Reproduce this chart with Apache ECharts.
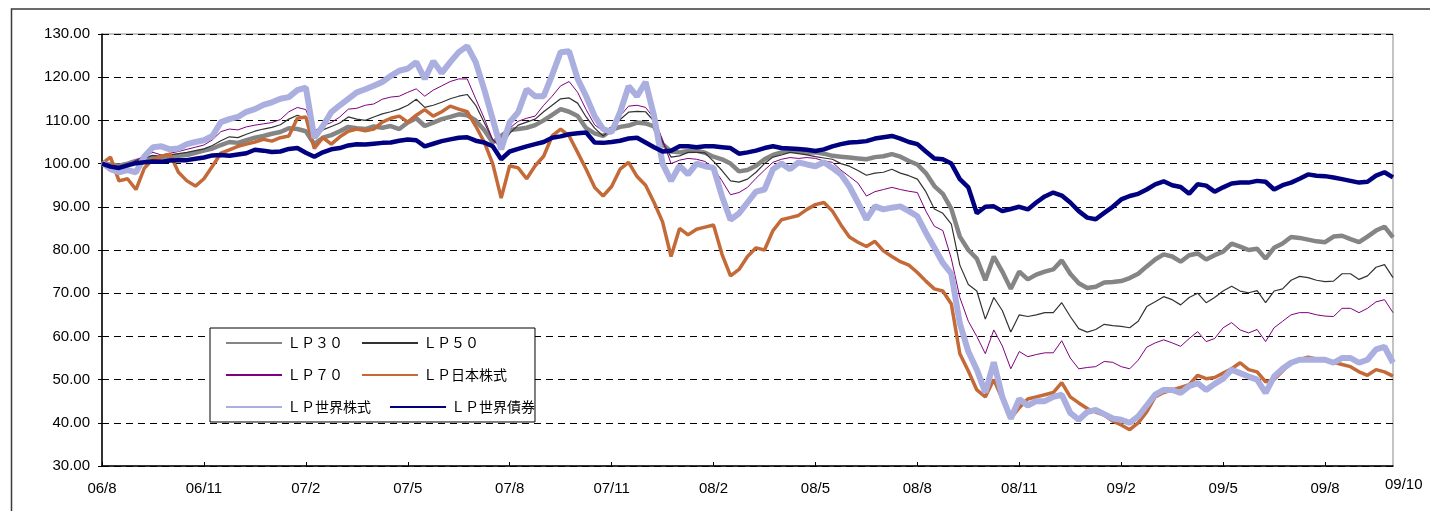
<!DOCTYPE html>
<html>
<head>
<meta charset="utf-8">
<script src="https://cdn.jsdelivr.net/npm/echarts@6/dist/echarts.min.js"></script>
<style>
  html, body { margin: 0; padding: 0; background: #fff; }
  #chart { width: 1430px; height: 511px; }
</style>
</head>
<body>
<div id="chart"></div>
<script>
// one label per month, 06/8 .. 09/10
const months = [
  '06/8', '06/9', '06/10', '06/11', '06/12',
  '07/1', '07/2', '07/3', '07/4', '07/5', '07/6', '07/7', '07/8', '07/9', '07/10', '07/11', '07/12',
  '08/1', '08/2', '08/3', '08/4', '08/5', '08/6', '08/7', '08/8', '08/9', '08/10', '08/11', '08/12',
  '09/1', '09/2', '09/3', '09/4', '09/5', '09/6', '09/7', '09/8', '09/9', '09/10'
]
// four readings a month, last one at 09/10
const categories = []
months.slice(0, -1).forEach(m => {
  for (let w = 1; w <= 4; w++) categories.push(m + '-' + w)
})
categories.push(months[months.length - 1])

const seriesNames = ['ＬＰ３０', 'ＬＰ５０', 'ＬＰ７０', 'ＬＰ日本株式', 'ＬＰ世界株式', 'ＬＰ世界債券']

const lp30 = [
  100.0, 99.8, 99.5, 100.0, 100.6, 101.0, 101.5, 101.3, 101.6, 101.8, 102.0, 102.5,
  103.0, 103.5, 104.3, 105.0, 104.8, 105.4, 106.0, 106.4, 106.9, 107.3, 108.2, 108.0,
  107.5, 104.5, 106.0, 106.6, 107.5, 108.5, 108.2, 108.0, 108.6, 108.3, 108.7, 108.0,
  109.5, 110.5, 108.7, 109.5, 110.3, 110.8, 111.4, 111.2, 110.0, 107.8, 104.9, 106.4,
  107.8, 108.0, 108.3, 108.9, 110.0, 111.3, 112.6, 112.0, 111.0, 108.2, 107.0, 106.4,
  107.8, 108.5, 108.8, 109.5, 109.3, 108.6, 104.5, 102.8, 102.6, 102.9, 103.0, 102.5,
  101.6, 101.0, 100.0, 98.2, 98.5, 99.5, 101.0, 102.0, 102.6, 103.0, 102.9, 102.5,
  102.6, 102.3, 101.8, 101.6, 101.4, 101.2, 101.0, 101.5, 101.7, 102.2, 101.6, 100.6,
  99.8, 97.8, 94.8, 93.0, 89.5, 83.1, 80.0, 78.0, 73.0, 78.5, 75.0, 71.0,
  75.0, 73.2, 74.3, 75.0, 75.5, 77.6, 74.5, 72.3, 71.2, 71.5, 72.5, 72.6,
  72.8, 73.5, 74.5, 76.2, 77.8, 79.0, 78.5, 77.3, 78.8, 79.2, 77.8, 78.8,
  79.6, 81.5, 80.8, 80.0, 80.3, 78.0, 80.5, 81.5, 83.0, 82.8, 82.4, 82.0,
  81.8, 83.1, 83.3, 82.5, 81.8, 83.1, 84.5, 85.4, 82.9
]

const lp50 = [
  100.0, 99.6, 99.2, 99.8, 100.6, 101.3, 101.9, 101.6, 102.0, 102.3, 102.6, 103.0,
  103.4, 104.2, 105.3, 106.2, 106.0, 106.8, 107.5, 108.0, 108.4, 109.0, 110.3, 111.2,
  110.5, 106.0, 107.8, 108.6, 109.4, 110.8, 110.3, 110.0, 110.8, 111.5, 112.0, 112.6,
  113.5, 114.9, 113.0, 113.5, 114.2, 115.0, 115.6, 116.0, 113.5, 109.5, 105.5, 104.0,
  107.0, 108.9, 109.6, 110.3, 112.0, 113.5, 115.0, 115.2, 114.0, 110.8, 108.2, 106.4,
  108.0, 110.2, 111.9, 112.1, 112.0, 109.8, 105.0, 101.5, 101.8, 102.6, 102.6, 102.5,
  100.5, 98.4, 96.0, 95.7, 96.4, 98.0, 100.0, 101.5, 102.0, 102.6, 102.3, 102.0,
  101.6, 101.3, 101.0, 100.0, 99.4, 98.4, 97.3, 97.8, 98.0, 98.7, 97.8, 97.2,
  96.4, 93.5, 89.5, 88.5, 86.0, 76.5, 72.0, 70.5, 64.0, 69.0, 66.0, 61.0,
  65.0, 64.6, 65.0, 65.5, 65.5, 67.8, 64.6, 61.8, 61.0, 61.6, 62.8, 62.5,
  62.3, 62.0, 63.5, 66.9, 68.0, 69.2, 68.5, 67.3, 69.0, 70.0, 67.8, 69.0,
  70.5, 71.6, 70.5, 70.1, 70.6, 67.8, 70.5, 71.0, 73.0, 73.9, 73.6, 73.0,
  72.7, 72.8, 74.5, 74.5, 73.2, 74.0, 76.0, 76.6, 73.6
]

const lp70 = [
  100.0, 99.4, 98.8, 99.5, 100.8, 101.8, 102.6, 102.0, 102.4, 102.8, 103.3, 103.8,
  104.3, 105.5, 107.4, 108.0, 107.8, 108.5, 108.9, 109.2, 109.5, 110.2, 112.0, 113.0,
  112.5, 107.5, 108.8, 109.5, 110.8, 112.6, 112.8, 113.5, 113.8, 114.9, 115.4, 115.6,
  116.5, 117.3, 115.6, 117.0, 118.0, 119.0, 119.6, 119.6, 115.0, 110.5, 105.5, 103.5,
  108.2, 109.8, 110.5, 111.0, 113.5, 115.6, 118.0, 119.0, 116.5, 112.5, 109.0, 107.5,
  108.5, 111.0, 113.3, 113.5, 113.0, 110.5, 105.5, 100.0, 100.8, 101.2, 101.0, 100.5,
  99.0, 96.0, 92.8, 93.3, 94.5, 96.6, 98.5, 100.3, 101.0, 101.4, 101.2, 101.4,
  101.2, 100.6, 100.3, 98.5, 97.0, 95.5, 92.5, 93.5, 94.0, 94.5, 94.0, 93.6,
  93.3, 89.0, 85.5, 84.5, 78.0, 69.0, 63.5, 60.0, 56.0, 61.5, 57.8, 52.5,
  56.5, 55.3, 55.8, 56.2, 56.2, 59.0, 55.0, 52.5, 52.8, 53.0, 54.2, 54.0,
  53.0, 52.5, 54.5, 57.5, 58.5, 59.2, 58.5, 57.7, 59.5, 61.1, 58.8, 59.5,
  62.0, 63.2, 61.5, 60.8, 61.6, 58.8, 62.0, 63.5, 65.0, 65.5, 65.5, 65.0,
  64.7, 64.6, 66.5, 66.5, 65.5, 66.5, 68.0, 68.5, 65.5
]

const lpJapanEq = [
  100.0, 101.5, 96.0, 96.5, 94.0, 99.0, 101.0, 101.7, 102.2, 98.0, 96.0, 94.8,
  96.5, 99.4, 102.4, 103.2, 104.0, 104.5, 105.0, 105.6, 105.2, 106.0, 106.4, 110.5,
  110.8, 103.5, 106.0, 104.5, 106.2, 107.5, 108.0, 107.6, 108.0, 109.6, 110.5, 111.0,
  109.6, 111.2, 112.5, 111.0, 112.0, 113.3, 112.6, 112.0, 108.7, 105.0, 100.0, 92.0,
  99.5, 99.0, 96.5, 99.5, 101.7, 106.4, 108.0, 106.4, 102.6, 98.7, 94.5, 92.5,
  94.7, 98.7, 100.3, 97.0, 95.0, 91.0, 86.5, 78.5, 85.0, 83.5, 84.8, 85.3,
  85.8, 79.0, 74.0, 75.5, 78.5, 80.5, 80.0, 84.5, 87.0, 87.5, 88.0, 89.4,
  90.5, 91.0, 89.0, 85.8, 83.0, 81.8, 80.8, 82.0, 79.8, 78.5, 77.3, 76.5,
  74.8, 72.8, 71.0, 70.5, 67.5, 56.0, 52.0, 47.6, 46.0, 50.0, 45.5, 41.0,
  43.5, 45.5, 46.0, 46.5, 47.0, 49.3, 46.0, 44.6, 43.3, 42.5, 41.8, 40.4,
  39.5, 38.4, 40.0, 42.5, 46.0, 47.0, 47.6, 48.2, 48.8, 51.0, 50.2, 50.5,
  51.5, 52.5, 53.9, 52.3, 51.8, 49.5, 50.0, 52.0, 53.9, 54.6, 55.2, 54.8,
  54.5, 54.0, 53.5, 53.0, 51.8, 51.0, 52.3, 51.8, 50.8
]

const lpWorldEq = [
  100.2, 98.7, 98.0, 98.5, 98.0, 101.7, 103.8, 104.0, 103.3, 103.5, 104.5, 105.0,
  105.4, 106.4, 109.6, 110.3, 110.8, 112.0, 112.6, 113.6, 114.2, 115.0, 115.4, 117.0,
  117.6, 106.0, 108.7, 111.9, 113.5, 115.0, 116.5, 117.2, 118.0, 118.9, 120.3, 121.5,
  122.0, 123.5, 119.6, 123.7, 121.0, 123.5, 125.8, 127.2, 123.5, 117.2, 110.3, 103.3,
  109.6, 111.9, 117.2, 115.6, 115.6, 120.5, 125.8, 126.0, 119.6, 115.6, 111.0, 108.0,
  107.3, 111.9, 117.9, 115.6, 118.9, 111.0, 100.0, 96.0, 99.5, 97.5, 100.0, 99.4,
  99.0, 92.4, 87.0, 88.5, 91.0, 93.5, 94.0, 98.7, 100.0, 98.7, 100.3, 99.8,
  99.4, 100.3, 99.0, 97.5, 94.7, 91.0, 87.1, 90.1, 89.4, 89.8, 90.1, 89.0,
  87.8, 84.0, 80.5, 77.0, 74.5, 63.0, 56.5, 52.3, 47.0, 54.0, 46.0, 41.0,
  45.5, 44.0, 45.0, 45.0, 46.0, 46.5, 42.3, 40.7, 42.5, 43.0, 42.0, 41.0,
  40.7, 40.0, 41.5, 44.0, 46.5, 47.6, 47.6, 46.9, 48.5, 49.2, 47.6, 49.0,
  50.2, 52.3, 51.5, 50.7, 50.0, 46.9, 50.7, 52.5, 53.9, 54.6, 54.6, 54.6,
  54.6, 53.9, 55.0, 55.0, 53.9, 54.6, 57.0, 57.6, 53.9
]

const lpWorldBond = [
  100.0, 99.3, 99.0, 99.6, 100.1, 100.3, 100.5, 100.4, 100.7, 100.8, 100.8, 101.1,
  101.4, 101.9, 102.0, 101.8, 102.1, 102.4, 103.2, 103.0, 102.7, 102.8, 103.4, 103.6,
  102.5, 101.6, 102.6, 103.3, 103.6, 104.2, 104.5, 104.4, 104.6, 104.8, 104.9, 105.3,
  105.6, 105.4, 104.0, 104.6, 105.2, 105.6, 106.0, 106.1, 105.3, 104.9, 104.0, 101.0,
  102.8, 103.4, 104.0, 104.5, 105.0, 106.0, 106.3, 106.8, 107.0, 107.2, 104.9, 104.8,
  105.0, 105.3, 105.8, 106.0, 104.9, 103.8, 102.8, 103.0, 104.0, 104.0, 103.8, 104.0,
  104.0, 103.8, 103.6, 102.3, 102.6, 103.0, 103.6, 104.0, 103.6, 103.5, 103.4, 103.2,
  102.9, 103.3, 104.0, 104.5, 104.9, 105.0, 105.2, 105.8, 106.1, 106.4, 105.8, 105.0,
  104.5, 102.8, 101.2, 101.0, 100.0, 96.4, 94.5, 88.5, 90.0, 90.1, 89.0, 89.5,
  90.0, 89.4, 91.0, 92.4, 93.3, 92.6, 91.0, 89.0, 87.5, 87.1, 88.6, 90.0,
  91.7, 92.5, 93.0, 94.0, 95.2, 95.9, 95.0, 94.6, 93.0, 95.2, 94.9, 93.5,
  94.5, 95.4, 95.6, 95.6, 96.0, 95.8, 94.0, 95.0, 95.6, 96.5, 97.5, 97.2,
  97.1, 96.8, 96.4, 96.0, 95.6, 95.8, 97.2, 98.0, 96.8
]

const seriesData = [lp30, lp50, lp70, lpJapanEq, lpWorldEq, lpWorldBond]
const colors = ['#858585', '#333333', '#800080', '#C46A38', '#AAAFE0', '#000080']
const widths = [4.5, 1.2, 1, 3.5, 6, 4.5]

const chart = echarts.init(document.getElementById('chart'))

const option = {
  animation: false,
  backgroundColor: '#fff',
  grid: { left: 102, right: 37, top: 34, bottom: 45, show: true, borderColor: '#888', borderWidth: 1 },
  legend: {
    left: 210,
    top: 328,
    width: 332,
    padding: [8, 0, 8, 15],
    itemWidth: 56,
    itemHeight: 14,
    itemGap: 18,
    backgroundColor: '#fff',
    borderColor: '#000',
    borderWidth: 1,
    data: seriesNames,
    itemStyle: { opacity: 0 },
    textStyle: {
      fontFamily: 'Noto Sans CJK JP',
      fontSize: 14,
      color: '#000',
      width: 95
    }
  },
  xAxis: {
    type: 'category',
    data: categories,
    boundaryGap: false,
    axisLine: { lineStyle: { color: '#000', width: 1.5 } },
    axisTick: { inside: true, length: 4, interval: i => i % 12 === 0, lineStyle: { color: '#000' } },
    axisLabel: {
      interval: i => i % 12 === 0,
      formatter: v => v.split('-')[0],
      fontFamily: 'Liberation Sans, Arial',
      fontSize: 15,
      color: '#000',
      margin: 15
    },
    splitLine: { show: false }
  },
  yAxis: {
    type: 'value',
    min: 30,
    max: 130,
    interval: 10,
    axisLine: { show: true, lineStyle: { color: '#000', width: 1.5 } },
    axisTick: { show: true, length: 4, lineStyle: { color: '#000' } },
    axisLabel: {
      formatter: v => v.toFixed(2),
      fontFamily: 'Liberation Sans, Arial',
      fontSize: 15,
      color: '#000',
      margin: 12
    },
    splitLine: { lineStyle: { color: '#000', type: [7, 5], width: 1 } }
  },
  series: seriesNames.map((name, k) => ({
    name,
    type: 'line',
    data: seriesData[k],
    symbol: 'none',
    color: colors[k],
    lineStyle: { color: colors[k], width: widths[k] },
    z: 2 + k
  })),
  graphic: [
    {
      type: 'rect',
      silent: true,
      z: -1,
      shape: { x: 11.5, y: 9, width: 1440, height: 600 },
      style: { fill: 'none', stroke: '#3a3a3a', lineWidth: 1.5 }
    },
    {
      type: 'text',
      left: 1385,
      top: 477,
      style: { text: months[months.length - 1], font: '15px "Liberation Sans", Arial', fill: '#000' }
    }
  ]
}

chart.setOption(option)
</script>
</body>
</html>
